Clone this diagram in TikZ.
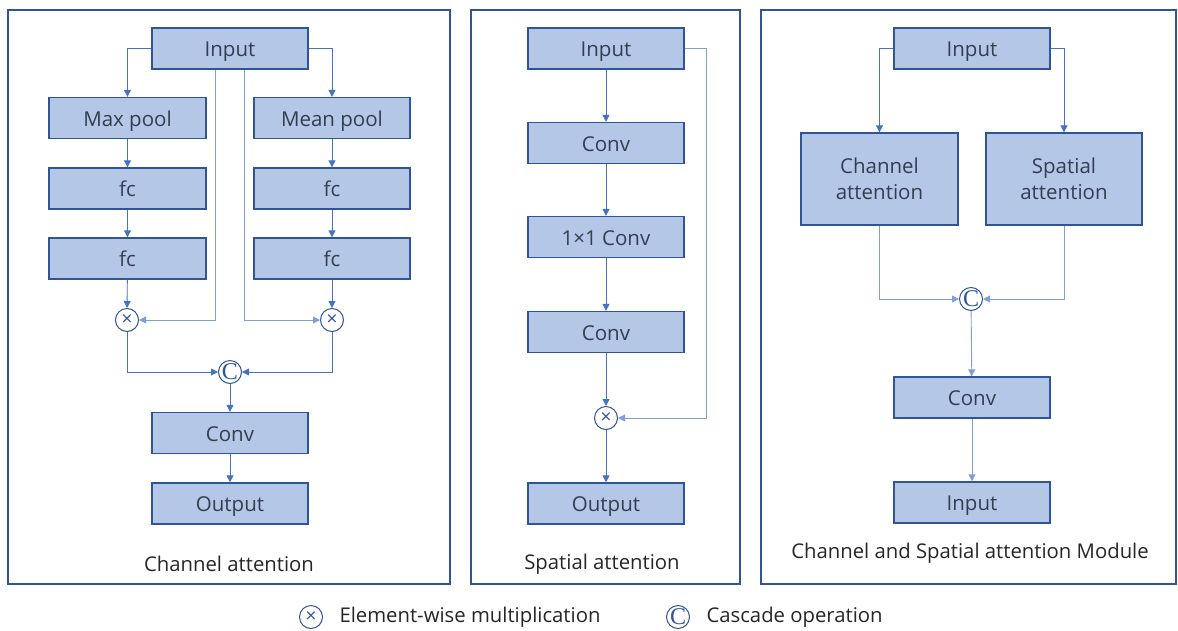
\documentclass[tikz,border=0pt]{standalone}
\usepackage{fontspec}
\usetikzlibrary{arrows.meta,calc}
\newfontfamily\labfont{Open Sans}
\newfontfamily\serifC{Liberation Serif}
\definecolor{boxfill}{HTML}{B4C7E7}
\definecolor{boxborder}{HTML}{2F5597}
\definecolor{linecol}{HTML}{4472C4}
\definecolor{skipcol}{HTML}{7F9FD8}
\definecolor{textcol}{HTML}{333F50}
\definecolor{labcol}{HTML}{262626}
\tikzset{
  x=1pt, y=-1pt,
  box/.style={draw=boxborder, fill=boxfill, line width=1.3pt, minimum width=156pt, minimum height=41pt, inner sep=0pt, font=\labfont\fontsize{20.5}{24}\selectfont, text=textcol, align=center, text height=18.5pt, text depth=2pt},
  bigbox/.style={draw=boxborder, fill=boxfill, line width=1.3pt, minimum width=156pt, minimum height=92pt, inner sep=0pt, font=\labfont\fontsize{20.5}{26}\selectfont, text=textcol, align=center},
  op/.style={circle, draw=boxborder, fill=white, minimum size=23pt, inner sep=0pt, line width=1pt, text=boxborder},
  arr/.style={draw=linecol, line width=0.9pt, -{Triangle[length=7pt,width=7pt]}},
  skip/.style={draw=skipcol, line width=0.9pt, -{Triangle[length=7pt,width=7pt]}},
  panel/.style={draw=boxborder, line width=1.2pt},
  lab/.style={font=\labfont\fontsize{20.3}{24}\selectfont, text=labcol},
}
\newcommand{\mulsym}{{\labfont\fontsize{19}{19}\selectfont\raisebox{0.5pt}{×}}}
\newcommand{\catsym}{{\serifC\fontsize{24}{24}\selectfont\raisebox{-0.5pt}{C}}}
\begin{document}
\begin{tikzpicture}
\useasboundingbox (0,0) rectangle (1178,630);
% panels
\draw[panel] (8,10) rectangle (450,584);
\draw[panel] (471,10) rectangle (740,584);
\draw[panel] (761,10) rectangle (1176,584);

% ---------- Channel attention ----------
\node[box] (ci) at (230,48.5) {Input};
\node[box, minimum width=157pt] (cmax) at (127.5,118) {Max pool};
\node[box] (cmean) at (332,118) {Mean pool};
\node[box, minimum width=157pt] (cf1) at (127.5,188.5) {fc};
\node[box] (cf2) at (332,188.5) {fc};
\node[box, minimum width=157pt] (cf3) at (127.5,258.5) {fc};
\node[box] (cf4) at (332,258.5) {fc};
\node[op] (cm1) at (127,320) {\mulsym};
\node[op] (cm2) at (332,320) {\mulsym};
\node[op] (cc) at (230,372) {\catsym};
\node[box] (cconv) at (230,433) {Conv};
\node[box] (cout) at (230,503.5) {Output};
\node[lab] (clab) at (229,564) {Channel attention};

\draw[arr] (ci.west) -| (cmax.north);
\draw[arr] (ci.east) -| (cmean.north);
\draw[arr] (cmax) -- (cf1);
\draw[arr] (cf1) -- (cf3);
\draw[arr] (cmean) -- (cf2);
\draw[arr] (cf2) -- (cf4);
\draw[arr] (cf3) -- (cm1);
\draw[arr] (cf4) -- (cm2);
\draw[skip] ([xshift=-15pt]ci.south) |- (cm1.east);
\draw[skip] ([xshift=14pt]ci.south) |- (cm2.west);
\draw[arr] (cm1.south) |- (cc.west);
\draw[arr] (cm2.south) |- (cc.east);
\draw[arr] (cc) -- (cconv);
\draw[arr] (cconv) -- (cout);

% ---------- Spatial attention ----------
\node[box] (si) at (606,48.5) {Input};
\node[box] (sc1) at (606,143) {Conv};
\node[box] (sc2) at (606,237) {1×1 Conv};
\node[box] (sc3) at (606,332) {Conv};
\node[op] (sm) at (606,418) {\mulsym};
\node[box] (so) at (606,503.5) {Output};
\node[lab] (slab) at (602,564) {Spatial attention};

\draw[arr] (si) -- (sc1);
\draw[arr] (sc1) -- (sc2);
\draw[arr] (sc2) -- (sc3);
\draw[arr] (sc3) -- (sm);
\draw[arr] (sm) -- (so);
\draw[skip] (si.east) -- ++(22,0) |- (sm.east);

% ---------- Module ----------
\node[box] (mi) at (972,48.5) {Input};
\node[bigbox, minimum width=157pt] (mca) at (879.5,179) {Channel\\attention};
\node[bigbox] (msa) at (1064,179) {Spatial\\attention};
\node[op] (mc) at (971,299) {\catsym};
\node[box] (mconv) at (972,397.5) {Conv};
\node[box] (mout) at (972,502.5) {Input};
\node[lab] (mlab) at (970,553) {Channel and Spatial attention Module};

\draw[arr] (mi.west) -| (mca.north);
\draw[arr] (mi.east) -| (msa.north);
\draw[skip] (mca.south) |- (mc.west);
\draw[skip] (msa.south) |- (mc.east);
\draw[skip] (mc) -- (mconv);
\draw[skip] (mconv) -- (mout);

% ---------- Legend ----------
\node[op, minimum size=23pt] (lm) at (311,617) {\mulsym};
\node[lab, anchor=west] (lmt) at ([xshift=13pt]lm.east) {Element-wise multiplication};
\node[op, minimum size=23pt] (lc) at (678,617) {\catsym};
\node[lab, anchor=west] (lct) at ([xshift=13pt]lc.east) {Cascade operation};
\end{tikzpicture}
\end{document}
